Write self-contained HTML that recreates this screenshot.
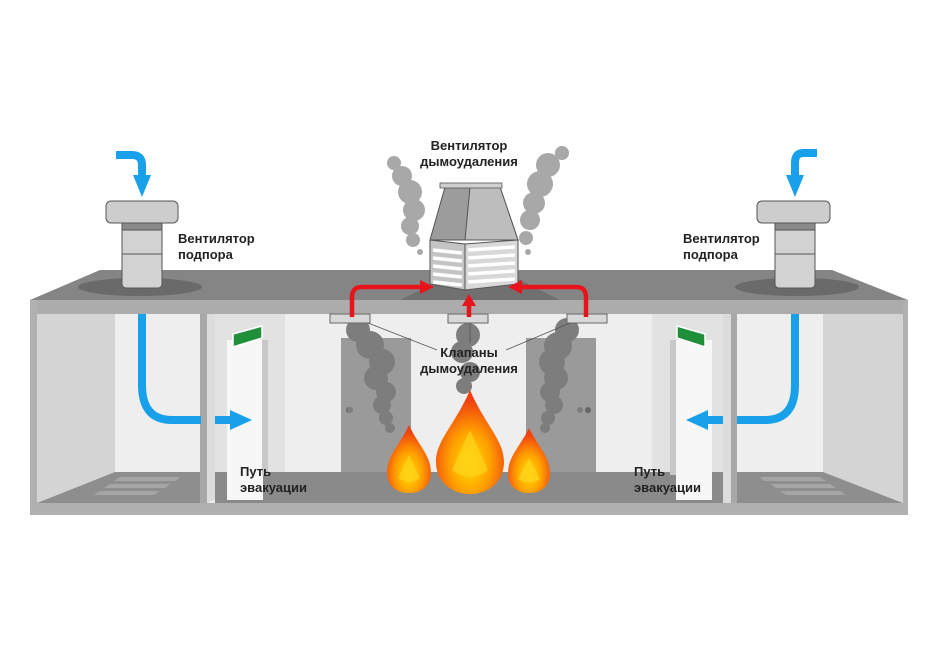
<!DOCTYPE html>
<html><head><meta charset="utf-8"><style>
html,body{margin:0;padding:0;background:#fff;}
svg{display:block;}
text{font-family:"Liberation Sans","DejaVu Sans",sans-serif;font-size:13px;font-weight:bold;fill:#222;}
</style></head><body>
<svg width="938" height="664" viewBox="0 0 938 664" xmlns="http://www.w3.org/2000/svg">
<rect width="938" height="664" fill="#fff"/>
<polygon points="100,270 832,270 908,300 30,300" fill="#858585"/>
<ellipse cx="140" cy="287" rx="62" ry="9" fill="#6a6a6a"/>
<ellipse cx="797" cy="287" rx="62" ry="9" fill="#6a6a6a"/>
<polygon points="400,300 440,280 520,280 560,300" fill="#707070"/>
<rect x="30" y="300" width="878" height="14" fill="#acacac"/>
<rect x="37" y="314" width="866" height="190" fill="#eeeeee"/>
<polygon points="37,314 115,314 115,472 37,503" fill="#d4d4d4"/>
<polygon points="823,314 903,314 903,503 823,472" fill="#d4d4d4"/>
<polygon points="115,472 205,472 205,503 37,503" fill="#8e8e8e"/>
<polygon points="735,472 823,472 903,503 735,503" fill="#8e8e8e"/>
<g fill="#a5a5a5">
<polygon points="120,477 180,477 176,481 114,481"/>
<polygon points="110,484 170,484 165,488 104,488"/>
<polygon points="100,491 160,491 154,495 94,495"/>
<polygon points="760,477 820,477 826,481 764,481"/>
<polygon points="770,484 830,484 836,488 776,488"/>
<polygon points="780,491 840,491 846,495 786,495"/>
</g>
<rect x="215" y="472" width="520" height="31" fill="#8a8a8a"/>
<rect x="200" y="314" width="7" height="189" fill="#a8a8a8"/>
<rect x="207" y="314" width="78" height="158" fill="#e2e2e2"/>
<polygon points="207,314 215,314 215,500 207,503" fill="#dcdcdc"/>
<rect x="227" y="340" width="36" height="160" fill="#f7f7f7"/>
<rect x="262" y="340" width="6" height="135" fill="#c8c8c8"/>
<polygon points="233,334 262,326 262,338 233,347" fill="#1f8f3a" stroke="#fff" stroke-width="1.5"/>
<rect x="731" y="314" width="6" height="189" fill="#a8a8a8"/>
<rect x="652" y="314" width="79" height="158" fill="#e2e2e2"/>
<rect x="723" y="314" width="8" height="189" fill="#dcdcdc"/>
<rect x="676" y="340" width="36" height="160" fill="#f7f7f7"/>
<rect x="670" y="340" width="6" height="135" fill="#c8c8c8"/>
<polygon points="677,326 705,334 705,347 677,338" fill="#1f8f3a" stroke="#fff" stroke-width="1.5"/>
<rect x="341" y="338" width="70" height="134" fill="#9a9a9a"/>
<rect x="526" y="338" width="70" height="134" fill="#9a9a9a"/>
<circle cx="349" cy="410" r="3" fill="#666"/>
<circle cx="588" cy="410" r="3" fill="#666"/>
<rect x="30" y="503" width="878" height="12" fill="#b0b0b0"/>
<rect x="30" y="300" width="7" height="215" fill="#b0b0b0"/>
<rect x="903" y="300" width="5" height="215" fill="#b0b0b0"/>
<g fill="#7d7d7d">
<circle cx="358" cy="330" r="12"/><circle cx="370" cy="345" r="14"/><circle cx="382" cy="362" r="13"/><circle cx="376" cy="378" r="12"/><circle cx="386" cy="392" r="10"/><circle cx="382" cy="405" r="9"/><circle cx="386" cy="418" r="7"/><circle cx="390" cy="428" r="5"/>
<circle cx="567" cy="330" r="12"/><circle cx="558" cy="346" r="14"/><circle cx="552" cy="362" r="13"/><circle cx="556" cy="378" r="12"/><circle cx="550" cy="392" r="10"/><circle cx="554" cy="405" r="9"/><circle cx="548" cy="418" r="7"/><circle cx="545" cy="428" r="5"/>
<circle cx="468" cy="335" r="12"/><circle cx="462" cy="352" r="11"/><circle cx="470" cy="372" r="10"/><circle cx="464" cy="386" r="8"/>
<circle cx="350" cy="410" r="3"/><circle cx="580" cy="410" r="3"/>
</g>
<g fill="#d8d8d8" stroke="#666" stroke-width="1">
<rect x="330" y="314" width="40" height="9"/>
<rect x="448" y="314" width="40" height="9"/>
<rect x="567" y="314" width="40" height="9"/>
</g>
<g stroke="#555" stroke-width="0.8" fill="none">
<line x1="368" y1="323" x2="437" y2="350"/><line x1="470" y1="323" x2="470" y2="343"/><line x1="570" y1="323" x2="506" y2="350"/>
</g>
<defs>
<radialGradient id="fl" cx="50%" cy="70%" r="60%"><stop offset="0" stop-color="#ffe000"/><stop offset="0.5" stop-color="#ffa000"/><stop offset="1" stop-color="#f04010"/></radialGradient>
</defs>
<path d="M409,425 C400,445 387,455 387,473 C387,486 397,493 409,493 C421,493 431,486 431,473 C431,455 418,445 409,425Z" fill="url(#fl)"/>
<path d="M470,390 C455,425 436,440 436,462 C436,482 452,494 470,494 C488,494 504,482 504,462 C504,440 485,425 470,390Z" fill="url(#fl)"/>
<path d="M529,428 C520,447 508,456 508,474 C508,486 517,493 529,493 C541,493 550,486 550,474 C550,456 538,447 529,428Z" fill="url(#fl)"/>
<g fill="#ffd21a" opacity="0.8">
<path d="M409,455 L398,478 Q409,486 420,478Z"/>
<path d="M470,430 L452,470 Q470,484 488,470Z"/>
<path d="M529,458 L518,479 Q529,486 540,479Z"/>
</g>
<g fill="#a8a8a8">
<circle cx="394" cy="163" r="7"/><circle cx="402" cy="176" r="10"/><circle cx="410" cy="192" r="12"/><circle cx="414" cy="210" r="11"/><circle cx="410" cy="226" r="9"/><circle cx="413" cy="240" r="7"/><circle cx="420" cy="252" r="3"/>
<circle cx="562" cy="153" r="7"/><circle cx="548" cy="165" r="12"/><circle cx="540" cy="184" r="13"/><circle cx="534" cy="203" r="11"/><circle cx="530" cy="220" r="10"/><circle cx="526" cy="238" r="7"/><circle cx="528" cy="252" r="3"/>
</g>
<polygon points="445,187 500,187 518,240 430,240" fill="#9c9c9c" stroke="#555" stroke-width="1"/>
<polygon points="470,187 500,187 518,240 465,240" fill="#bdbdbd" stroke="#555" stroke-width="1"/>
<rect x="440" y="183" width="62" height="5" fill="#cfcfcf" stroke="#555" stroke-width="0.8"/>
<polygon points="430,240 465,244 465,290 430,284" fill="#c4c4c4" stroke="#555"/>
<polygon points="465,244 518,240 518,284 465,290" fill="#d8d8d8" stroke="#555"/>
<g stroke="#fff" stroke-width="3.5">
<line x1="433" y1="250" x2="462" y2="253"/><line x1="433" y1="258" x2="462" y2="261"/><line x1="433" y1="266" x2="462" y2="269"/><line x1="433" y1="274" x2="462" y2="277"/><line x1="433" y1="282" x2="462" y2="285"/>
<line x1="468" y1="250" x2="515" y2="247"/><line x1="468" y1="258" x2="515" y2="255"/><line x1="468" y1="266" x2="515" y2="263"/><line x1="468" y1="274" x2="515" y2="271"/><line x1="468" y1="282" x2="515" y2="279"/>
</g>
<g stroke="#e8141c" stroke-width="4.5" fill="none">
<path d="M352,317 V297 Q352,287 362,287 H422"/>
<path d="M586,317 V297 Q586,287 576,287 H520"/>
<line x1="469" y1="317" x2="469" y2="305"/>
</g>
<g fill="#e8141c">
<polygon points="420,280 434,287 420,294"/>
<polygon points="522,280 508,287 522,294"/>
<polygon points="462,306 469,294 476,306"/>
</g>
<g stroke="#555" stroke-width="1">
<rect x="122" y="222" width="40" height="66" rx="4" fill="#d2d2d2"/>
<rect x="122" y="222" width="40" height="8" fill="#8a8a8a"/>
<rect x="106" y="201" width="72" height="22" rx="5" fill="#cdcdcd"/>
<line x1="122" y1="254" x2="162" y2="254"/>
<rect x="775" y="222" width="40" height="66" rx="4" fill="#d2d2d2"/>
<rect x="775" y="222" width="40" height="8" fill="#8a8a8a"/>
<rect x="757" y="201" width="73" height="22" rx="5" fill="#cdcdcd"/>
<line x1="775" y1="254" x2="815" y2="254"/>
</g>
<g stroke="#18a0ea" stroke-width="8" fill="none">
<path d="M116,155 H132 Q142,155 142,165 V175"/>
<path d="M817,153 H803 Q795,153 795,163 V175"/>
<path d="M142,314 V385 Q142,420 172,420 H201"/>
<path d="M795,314 V385 Q795,420 765,420 H737"/>
<line x1="215" y1="420" x2="232" y2="420"/>
<line x1="723" y1="420" x2="706" y2="420"/>
</g>
<g fill="#18a0ea">
<polygon points="133,175 151,175 142,197"/>
<polygon points="786,175 804,175 795,197"/>
<polygon points="230,410 252,420 230,430"/>
<polygon points="708,410 686,420 708,430"/>
</g>
<text x="178" y="243">Вентилятор</text>
<text x="178" y="259">подпора</text>
<text x="683" y="243">Вентилятор</text>
<text x="683" y="259">подпора</text>
<text x="469" y="150" text-anchor="middle">Вентилятор</text>
<text x="469" y="166" text-anchor="middle">дымоудаления</text>
<text x="469" y="357" text-anchor="middle">Клапаны</text>
<text x="469" y="373" text-anchor="middle">дымоудаления</text>
<text x="240" y="476">Путь</text>
<text x="240" y="492">эвакуации</text>
<text x="634" y="476">Путь</text>
<text x="634" y="492">эвакуации</text>
</svg>
</body></html>
